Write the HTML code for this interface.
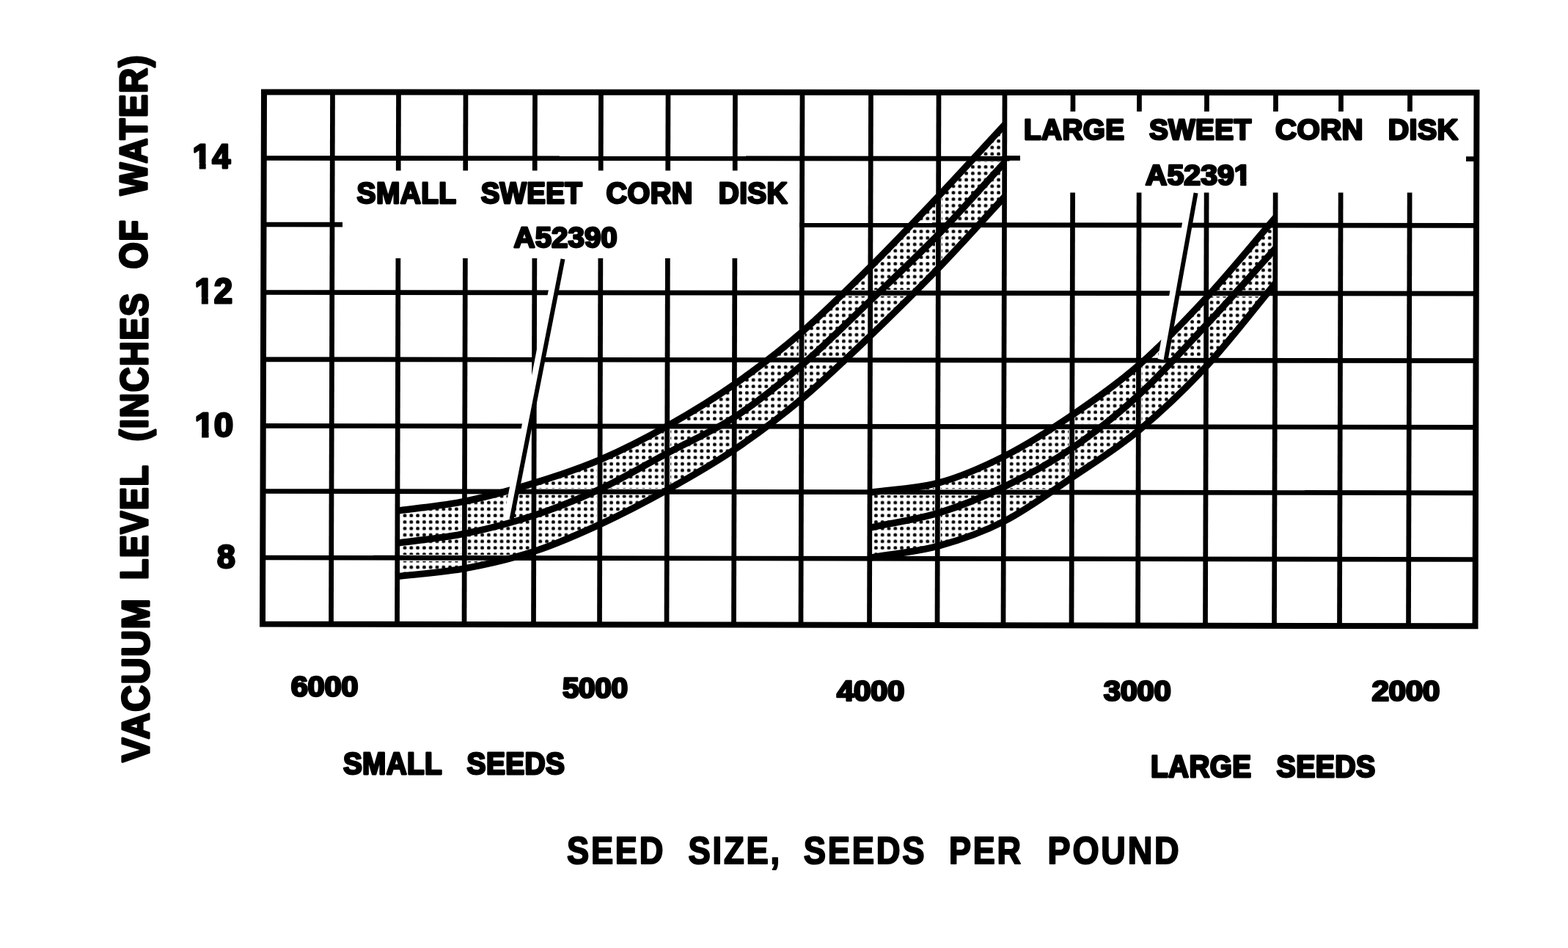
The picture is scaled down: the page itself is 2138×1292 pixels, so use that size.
<!DOCTYPE html>
<html lang="en">
<head>
<meta charset="utf-8">
<title>Vacuum level vs seed size</title>
<style>
html,body{margin:0;padding:0;background:#fff;}
body{width:2138px;height:1292px;overflow:hidden;}
svg{display:block;}
svg text{font-family:"Liberation Sans",Arial,Helvetica,sans-serif;font-weight:700;font-size:100px;letter-spacing:6.0px;fill:#000;stroke:#000;stroke-width:2.0px;stroke-linejoin:round;vector-effect:non-scaling-stroke;}
</style>
</head>
<body>
<svg width="2138" height="1292" viewBox="0 0 2138 1292">
<defs>
<pattern id="dots" x="2" y="3" width="8.8" height="8.8" patternUnits="userSpaceOnUse"><rect x="2.1" y="2.1" width="4.6" height="4.6" rx="1.5" fill="#000"/></pattern>
<clipPath id="cs"><path d="M543.5 696.0 C574.0 691.7 604.0 689.3 635.0 683.0 C666.0 676.7 698.8 667.5 729.5 658.0 C760.2 648.5 789.2 639.0 819.5 626.0 C849.8 613.0 880.5 597.2 911.0 580.0 C941.5 562.8 972.0 544.3 1002.5 523.0 C1033.0 501.7 1063.2 478.7 1094.0 452.0 C1124.8 425.3 1156.5 393.8 1187.5 363.0 C1218.5 332.2 1249.6 299.2 1280.0 267.0 C1310.4 234.8 1340.0 202.3 1370.0 170.0 L1370.0 268.0 C1340.0 300.3 1310.4 333.5 1280.0 365.0 C1249.6 396.5 1218.5 427.3 1187.5 457.0 C1156.5 486.7 1124.8 517.2 1094.0 543.0 C1063.2 568.8 1033.0 591.3 1002.5 612.0 C972.0 632.7 941.5 650.0 911.0 667.0 C880.5 684.0 849.8 700.0 819.5 714.0 C789.2 728.0 760.2 740.9 729.5 751.0 C698.8 761.1 666.0 768.8 635.0 774.5 C604.0 780.2 574.0 781.8 543.5 785.5 Z"/></clipPath>
<clipPath id="cl"><path d="M1187.5 671.0 C1218.3 666.7 1249.6 666.2 1280.0 658.0 C1310.4 649.8 1339.5 637.0 1370.0 621.5 C1400.5 606.0 1432.4 585.8 1463.0 565.0 C1493.6 544.2 1523.1 523.7 1553.5 497.0 C1583.9 470.3 1614.5 438.5 1645.5 405.0 C1676.5 371.5 1708.2 332.3 1739.5 296.0 L1739.5 385.5 C1708.2 423.2 1676.5 465.1 1645.5 498.5 C1614.5 531.9 1583.9 560.8 1553.5 586.0 C1523.1 611.2 1493.6 629.3 1463.0 650.0 C1432.4 670.7 1400.5 694.3 1370.0 710.0 C1339.5 725.7 1310.4 735.7 1280.0 744.0 C1249.6 752.3 1218.3 754.7 1187.5 760.0 Z"/></clipPath>
<clipPath id="ks"><rect x="539.5" y="100" width="832.5" height="800"/></clipPath>
<clipPath id="kl"><rect x="1184.5" y="100" width="557.0" height="800"/></clipPath>
<clipPath id="one"><path d="M-50 -95H900V12H56.5V-16H40.0V6H20.4V-16H1.0V12H-50Z"/></clipPath>
<clipPath id="one6"><path d="M-50 -95H900V12H351.2V-16H334.7V6H315.1V-16H295.7V12H-50Z"/></clipPath>
</defs>
<rect width="2138" height="1292" fill="#fff"/>
<path d="M543.5 696.0 C574.0 691.7 604.0 689.3 635.0 683.0 C666.0 676.7 698.8 667.5 729.5 658.0 C760.2 648.5 789.2 639.0 819.5 626.0 C849.8 613.0 880.5 597.2 911.0 580.0 C941.5 562.8 972.0 544.3 1002.5 523.0 C1033.0 501.7 1063.2 478.7 1094.0 452.0 C1124.8 425.3 1156.5 393.8 1187.5 363.0 C1218.5 332.2 1249.6 299.2 1280.0 267.0 C1310.4 234.8 1340.0 202.3 1370.0 170.0 L1370.0 268.0 C1340.0 300.3 1310.4 333.5 1280.0 365.0 C1249.6 396.5 1218.5 427.3 1187.5 457.0 C1156.5 486.7 1124.8 517.2 1094.0 543.0 C1063.2 568.8 1033.0 591.3 1002.5 612.0 C972.0 632.7 941.5 650.0 911.0 667.0 C880.5 684.0 849.8 700.0 819.5 714.0 C789.2 728.0 760.2 740.9 729.5 751.0 C698.8 761.1 666.0 768.8 635.0 774.5 C604.0 780.2 574.0 781.8 543.5 785.5 Z" fill="url(#dots)"/>
<path d="M1187.5 671.0 C1218.3 666.7 1249.6 666.2 1280.0 658.0 C1310.4 649.8 1339.5 637.0 1370.0 621.5 C1400.5 606.0 1432.4 585.8 1463.0 565.0 C1493.6 544.2 1523.1 523.7 1553.5 497.0 C1583.9 470.3 1614.5 438.5 1645.5 405.0 C1676.5 371.5 1708.2 332.3 1739.5 296.0 L1739.5 385.5 C1708.2 423.2 1676.5 465.1 1645.5 498.5 C1614.5 531.9 1583.9 560.8 1553.5 586.0 C1523.1 611.2 1493.6 629.3 1463.0 650.0 C1432.4 670.7 1400.5 694.3 1370.0 710.0 C1339.5 725.7 1310.4 735.7 1280.0 744.0 C1249.6 752.3 1218.3 754.7 1187.5 760.0 Z" fill="url(#dots)"/>
<g stroke="#fff" stroke-width="8.8" fill="none" clip-path="url(#cs)">
<line x1="453.5" y1="125.5" x2="451.5" y2="850.5"/>
<line x1="543.5" y1="125.5" x2="541.5" y2="850.5"/>
<line x1="635.0" y1="125.5" x2="633.0" y2="850.5"/>
<line x1="729.5" y1="125.5" x2="727.5" y2="850.5"/>
<line x1="819.5" y1="125.5" x2="817.5" y2="850.5"/>
<line x1="911.0" y1="125.5" x2="909.0" y2="850.5"/>
<line x1="1002.5" y1="125.5" x2="1000.5" y2="850.5"/>
<line x1="1094.0" y1="125.5" x2="1092.0" y2="850.5"/>
<line x1="1187.5" y1="125.5" x2="1185.5" y2="850.5"/>
<line x1="1280.0" y1="125.5" x2="1278.0" y2="850.5"/>
<line x1="1370.0" y1="125.5" x2="1368.0" y2="850.5"/>
<line x1="1463.0" y1="125.5" x2="1461.0" y2="850.5"/>
<line x1="1553.5" y1="125.5" x2="1551.5" y2="850.5"/>
<line x1="1645.5" y1="125.5" x2="1643.5" y2="850.5"/>
<line x1="1739.5" y1="125.5" x2="1737.5" y2="850.5"/>
<line x1="1828.5" y1="125.5" x2="1826.5" y2="850.5"/>
<line x1="1922.5" y1="125.5" x2="1920.5" y2="850.5"/>
<line x1="360.0" y1="215.5" x2="2013.5" y2="216.6"/>
<line x1="360.0" y1="306.0" x2="2013.5" y2="307.3"/>
<line x1="360.0" y1="398.5" x2="2013.5" y2="400.1"/>
<line x1="360.0" y1="489.8" x2="2013.5" y2="491.6"/>
<line x1="360.0" y1="580.3" x2="2013.5" y2="582.3"/>
<line x1="360.0" y1="669.5" x2="2013.5" y2="671.8"/>
<line x1="360.0" y1="760.0" x2="2013.5" y2="762.5"/>
</g>
<g stroke="#fff" stroke-width="8.8" fill="none" clip-path="url(#cl)">
<line x1="453.5" y1="125.5" x2="451.5" y2="850.5"/>
<line x1="543.5" y1="125.5" x2="541.5" y2="850.5"/>
<line x1="635.0" y1="125.5" x2="633.0" y2="850.5"/>
<line x1="729.5" y1="125.5" x2="727.5" y2="850.5"/>
<line x1="819.5" y1="125.5" x2="817.5" y2="850.5"/>
<line x1="911.0" y1="125.5" x2="909.0" y2="850.5"/>
<line x1="1002.5" y1="125.5" x2="1000.5" y2="850.5"/>
<line x1="1094.0" y1="125.5" x2="1092.0" y2="850.5"/>
<line x1="1187.5" y1="125.5" x2="1185.5" y2="850.5"/>
<line x1="1280.0" y1="125.5" x2="1278.0" y2="850.5"/>
<line x1="1370.0" y1="125.5" x2="1368.0" y2="850.5"/>
<line x1="1463.0" y1="125.5" x2="1461.0" y2="850.5"/>
<line x1="1553.5" y1="125.5" x2="1551.5" y2="850.5"/>
<line x1="1645.5" y1="125.5" x2="1643.5" y2="850.5"/>
<line x1="1739.5" y1="125.5" x2="1737.5" y2="850.5"/>
<line x1="1828.5" y1="125.5" x2="1826.5" y2="850.5"/>
<line x1="1922.5" y1="125.5" x2="1920.5" y2="850.5"/>
<line x1="360.0" y1="215.5" x2="2013.5" y2="216.6"/>
<line x1="360.0" y1="306.0" x2="2013.5" y2="307.3"/>
<line x1="360.0" y1="398.5" x2="2013.5" y2="400.1"/>
<line x1="360.0" y1="489.8" x2="2013.5" y2="491.6"/>
<line x1="360.0" y1="580.3" x2="2013.5" y2="582.3"/>
<line x1="360.0" y1="669.5" x2="2013.5" y2="671.8"/>
<line x1="360.0" y1="760.0" x2="2013.5" y2="762.5"/>
</g>
<g stroke="#000" stroke-width="6.7" fill="none">
<line x1="453.5" y1="125.5" x2="451.5" y2="850.5"/>
<line x1="543.5" y1="125.5" x2="541.5" y2="850.5"/>
<line x1="635.0" y1="125.5" x2="633.0" y2="850.5"/>
<line x1="729.5" y1="125.5" x2="727.5" y2="850.5"/>
<line x1="819.5" y1="125.5" x2="817.5" y2="850.5"/>
<line x1="911.0" y1="125.5" x2="909.0" y2="850.5"/>
<line x1="1002.5" y1="125.5" x2="1000.5" y2="850.5"/>
<line x1="1094.0" y1="125.5" x2="1092.0" y2="850.5"/>
<line x1="1187.5" y1="125.5" x2="1185.5" y2="850.5"/>
<line x1="1280.0" y1="125.5" x2="1278.0" y2="850.5"/>
<line x1="1370.0" y1="125.5" x2="1368.0" y2="850.5"/>
<line x1="1463.0" y1="125.5" x2="1461.0" y2="850.5"/>
<line x1="1553.5" y1="125.5" x2="1551.5" y2="850.5"/>
<line x1="1645.5" y1="125.5" x2="1643.5" y2="850.5"/>
<line x1="1739.5" y1="125.5" x2="1737.5" y2="850.5"/>
<line x1="1828.5" y1="125.5" x2="1826.5" y2="850.5"/>
<line x1="1922.5" y1="125.5" x2="1920.5" y2="850.5"/>
<line x1="360.0" y1="215.5" x2="2013.5" y2="216.6"/>
<line x1="360.0" y1="306.0" x2="2013.5" y2="307.3"/>
<line x1="360.0" y1="398.5" x2="2013.5" y2="400.1"/>
<line x1="360.0" y1="489.8" x2="2013.5" y2="491.6"/>
<line x1="360.0" y1="580.3" x2="2013.5" y2="582.3"/>
<line x1="360.0" y1="669.5" x2="2013.5" y2="671.8"/>
<line x1="360.0" y1="760.0" x2="2013.5" y2="762.5"/>
</g>
<g stroke="#000" stroke-width="9.2" fill="none" stroke-linecap="square" clip-path="url(#ks)">
<path d="M543.5 696.0 C574.0 691.7 604.0 689.3 635.0 683.0 C666.0 676.7 698.8 667.5 729.5 658.0 C760.2 648.5 789.2 639.0 819.5 626.0 C849.8 613.0 880.5 597.2 911.0 580.0 C941.5 562.8 972.0 544.3 1002.5 523.0 C1033.0 501.7 1063.2 478.7 1094.0 452.0 C1124.8 425.3 1156.5 393.8 1187.5 363.0 C1218.5 332.2 1249.6 299.2 1280.0 267.0 C1310.4 234.8 1340.0 202.3 1370.0 170.0"/>
<path d="M543.5 740.0 C574.0 735.7 604.0 733.3 635.0 727.0 C666.0 720.7 698.8 712.2 729.5 702.0 C760.2 691.8 789.2 680.2 819.5 666.0 C849.8 651.8 880.5 633.3 911.0 617.0 C941.5 600.7 972.0 588.0 1002.5 568.0 C1033.0 548.0 1063.2 523.5 1094.0 497.0 C1124.8 470.5 1156.5 438.7 1187.5 409.0 C1218.5 379.3 1249.6 350.3 1280.0 319.0 C1310.4 287.7 1340.0 253.7 1370.0 221.0"/>
<path d="M543.5 785.5 C574.0 781.8 604.0 780.2 635.0 774.5 C666.0 768.8 698.8 761.1 729.5 751.0 C760.2 740.9 789.2 728.0 819.5 714.0 C849.8 700.0 880.5 684.0 911.0 667.0 C941.5 650.0 972.0 632.7 1002.5 612.0 C1033.0 591.3 1063.2 568.8 1094.0 543.0 C1124.8 517.2 1156.5 486.7 1187.5 457.0 C1218.5 427.3 1249.6 396.5 1280.0 365.0 C1310.4 333.5 1340.0 300.3 1370.0 268.0"/>
</g>
<g stroke="#000" stroke-width="9.2" fill="none" stroke-linecap="square" clip-path="url(#kl)">
<path d="M1187.5 671.0 C1218.3 666.7 1249.6 666.2 1280.0 658.0 C1310.4 649.8 1339.5 637.0 1370.0 621.5 C1400.5 606.0 1432.4 585.8 1463.0 565.0 C1493.6 544.2 1523.1 523.7 1553.5 497.0 C1583.9 470.3 1614.5 438.5 1645.5 405.0 C1676.5 371.5 1708.2 332.3 1739.5 296.0"/>
<path d="M1187.5 719.0 C1218.3 712.3 1249.6 708.3 1280.0 699.0 C1310.4 689.7 1339.5 677.8 1370.0 663.0 C1400.5 648.2 1432.4 630.9 1463.0 610.0 C1493.6 589.1 1523.1 565.5 1553.5 537.5 C1583.9 509.5 1614.5 475.2 1645.5 442.0 C1676.5 408.8 1708.2 372.7 1739.5 338.0"/>
<path d="M1187.5 760.0 C1218.3 754.7 1249.6 752.3 1280.0 744.0 C1310.4 735.7 1339.5 725.7 1370.0 710.0 C1400.5 694.3 1432.4 670.7 1463.0 650.0 C1493.6 629.3 1523.1 611.2 1553.5 586.0 C1583.9 560.8 1614.5 531.9 1645.5 498.5 C1676.5 465.1 1708.2 423.2 1739.5 385.5"/>
</g>
<rect x="467" y="232.5" width="623" height="119.5" fill="#fff"/>
<rect x="1376.5" y="152" width="622.5" height="110.5" fill="#fff"/>
<line x1="1370" y1="215.5" x2="1391" y2="215.5" stroke="#000" stroke-width="6.7"/>
<path d="M360.0 125.5 L2013.5 126.3 L2011.5 853.3 L358.0 850.5 Z" fill="none" stroke="#000" stroke-width="8.0" stroke-linejoin="miter"/>
<line x1="762.1" y1="351.9" x2="692.1" y2="706.9" stroke="#fff" stroke-width="11"/>
<line x1="767.5" y1="353.0" x2="697.5" y2="708.0" stroke="#000" stroke-width="6.0"/>
<line x1="1625.2" y1="262.0" x2="1584.1" y2="490.0" stroke="#fff" stroke-width="11"/>
<line x1="1630.6" y1="263.0" x2="1589.5" y2="491.0" stroke="#000" stroke-width="6.0"/>
<g>
<text transform="matrix(0.4488 0 0 0.4638 262.61 229.40)" style="letter-spacing:4.0px;stroke-width:2.8px;" clip-path="url(#one)">14</text>
<text transform="matrix(0.4555 0 0 0.4743 265.57 412.50)" style="letter-spacing:2.0px;stroke-width:2.8px;" clip-path="url(#one)">12</text>
<text transform="matrix(0.4753 0 0 0.4676 265.45 595.03)" style="letter-spacing:0.0px;stroke-width:2.8px;" clip-path="url(#one)">10</text>
<text transform="matrix(0.4460 0 0 0.4521 296.06 774.05)" style="letter-spacing:0.0px;stroke-width:2.8px;">8</text>
<text transform="matrix(0.4172 0 0 0.3886 396.85 948.60)" style="letter-spacing:-1.0px;stroke-width:2.8px;">6000</text>
<text transform="matrix(0.4064 0 0 0.3886 766.88 951.30)" style="letter-spacing:-1.0px;stroke-width:2.8px;">5000</text>
<text transform="matrix(0.4212 0 0 0.3886 1140.98 955.30)" style="letter-spacing:-1.0px;stroke-width:2.8px;">4000</text>
<text transform="matrix(0.4190 0 0 0.3886 1504.86 954.60)" style="letter-spacing:-1.0px;stroke-width:2.8px;">3000</text>
<text transform="matrix(0.4238 0 0 0.3886 1870.43 955.30)" style="letter-spacing:-1.0px;stroke-width:2.8px;">2000</text>
<text transform="matrix(0.3869 0 0 0.4171 467.93 1054.60)" style="letter-spacing:1.0px;stroke-width:2.8px;">SMALL</text>
<text transform="matrix(0.3890 0 0 0.4171 636.62 1054.60)" style="letter-spacing:1.0px;stroke-width:2.8px;">SEEDS</text>
<text transform="matrix(0.3869 0 0 0.4171 1569.08 1058.60)" style="letter-spacing:1.0px;stroke-width:2.8px;">LARGE</text>
<text transform="matrix(0.3928 0 0 0.4171 1740.61 1058.60)" style="letter-spacing:1.0px;stroke-width:2.8px;">SEEDS</text>
<text transform="matrix(0.4525 0 0 0.5214 773.10 1177.00)">SEED</text>
<text transform="matrix(0.4544 0 0 0.5214 938.59 1177.00)">SIZE,</text>
<text transform="matrix(0.4539 0 0 0.5214 1095.79 1177.00)">SEEDS</text>
<text transform="matrix(0.4506 0 0 0.5214 1294.00 1177.00)">PER</text>
<text transform="matrix(0.4650 0 0 0.5214 1428.61 1177.00)">POUND</text>
<text transform="matrix(0.3889 0 0 0.4100 486.62 277.10)" style="letter-spacing:1.0px;stroke-width:2.8px;">SMALL</text>
<text transform="matrix(0.3838 0 0 0.4100 655.63 277.10)" style="letter-spacing:1.0px;stroke-width:2.8px;">SWEET</text>
<text transform="matrix(0.3962 0 0 0.4100 826.52 277.10)" style="letter-spacing:1.0px;stroke-width:2.8px;">CORN</text>
<text transform="matrix(0.3882 0 0 0.4100 979.77 277.10)" style="letter-spacing:1.0px;stroke-width:2.8px;">DISK</text>
<text transform="matrix(0.4030 0 0 0.3957 700.59 336.60)" style="letter-spacing:0.0px;stroke-width:2.8px;">A52390</text>
<text transform="matrix(0.3869 0 0 0.3957 1396.08 190.10)" style="letter-spacing:1.0px;stroke-width:2.8px;">LARGE</text>
<text transform="matrix(0.3873 0 0 0.3957 1566.88 190.10)" style="letter-spacing:1.0px;stroke-width:2.8px;">SWEET</text>
<text transform="matrix(0.4020 0 0 0.3957 1739.04 190.10)" style="letter-spacing:1.0px;stroke-width:2.8px;">CORN</text>
<text transform="matrix(0.3935 0 0 0.3957 1892.79 190.10)" style="letter-spacing:1.0px;stroke-width:2.8px;">DISK</text>
<text transform="matrix(0.4108 0 0 0.3845 1561.83 251.82)" style="letter-spacing:0.0px;stroke-width:2.8px;" clip-path="url(#one6)">A52391</text>
<text transform="translate(202.70 1038.40) rotate(-90) scale(0.4926 0.5114)" style="letter-spacing:4.0px;stroke-width:3.2px;">VACUUM</text>
<text transform="translate(201.30 789.91) rotate(-90) scale(0.4597 0.5114)" style="letter-spacing:4.0px;stroke-width:3.2px;">LEVEL</text>
<text transform="translate(200.70 601.25) rotate(-90) scale(0.4628 0.5114)" style="letter-spacing:4.0px;stroke-width:3.2px;">(INCHES</text>
<text transform="translate(200.20 366.25) rotate(-90) scale(0.4625 0.5114)" style="letter-spacing:4.0px;stroke-width:3.2px;">OF</text>
<text transform="translate(199.70 265.90) rotate(-90) scale(0.4676 0.5114)" style="letter-spacing:4.0px;stroke-width:3.2px;">WATER)</text>
</g>
</svg>
</body>
</html>
